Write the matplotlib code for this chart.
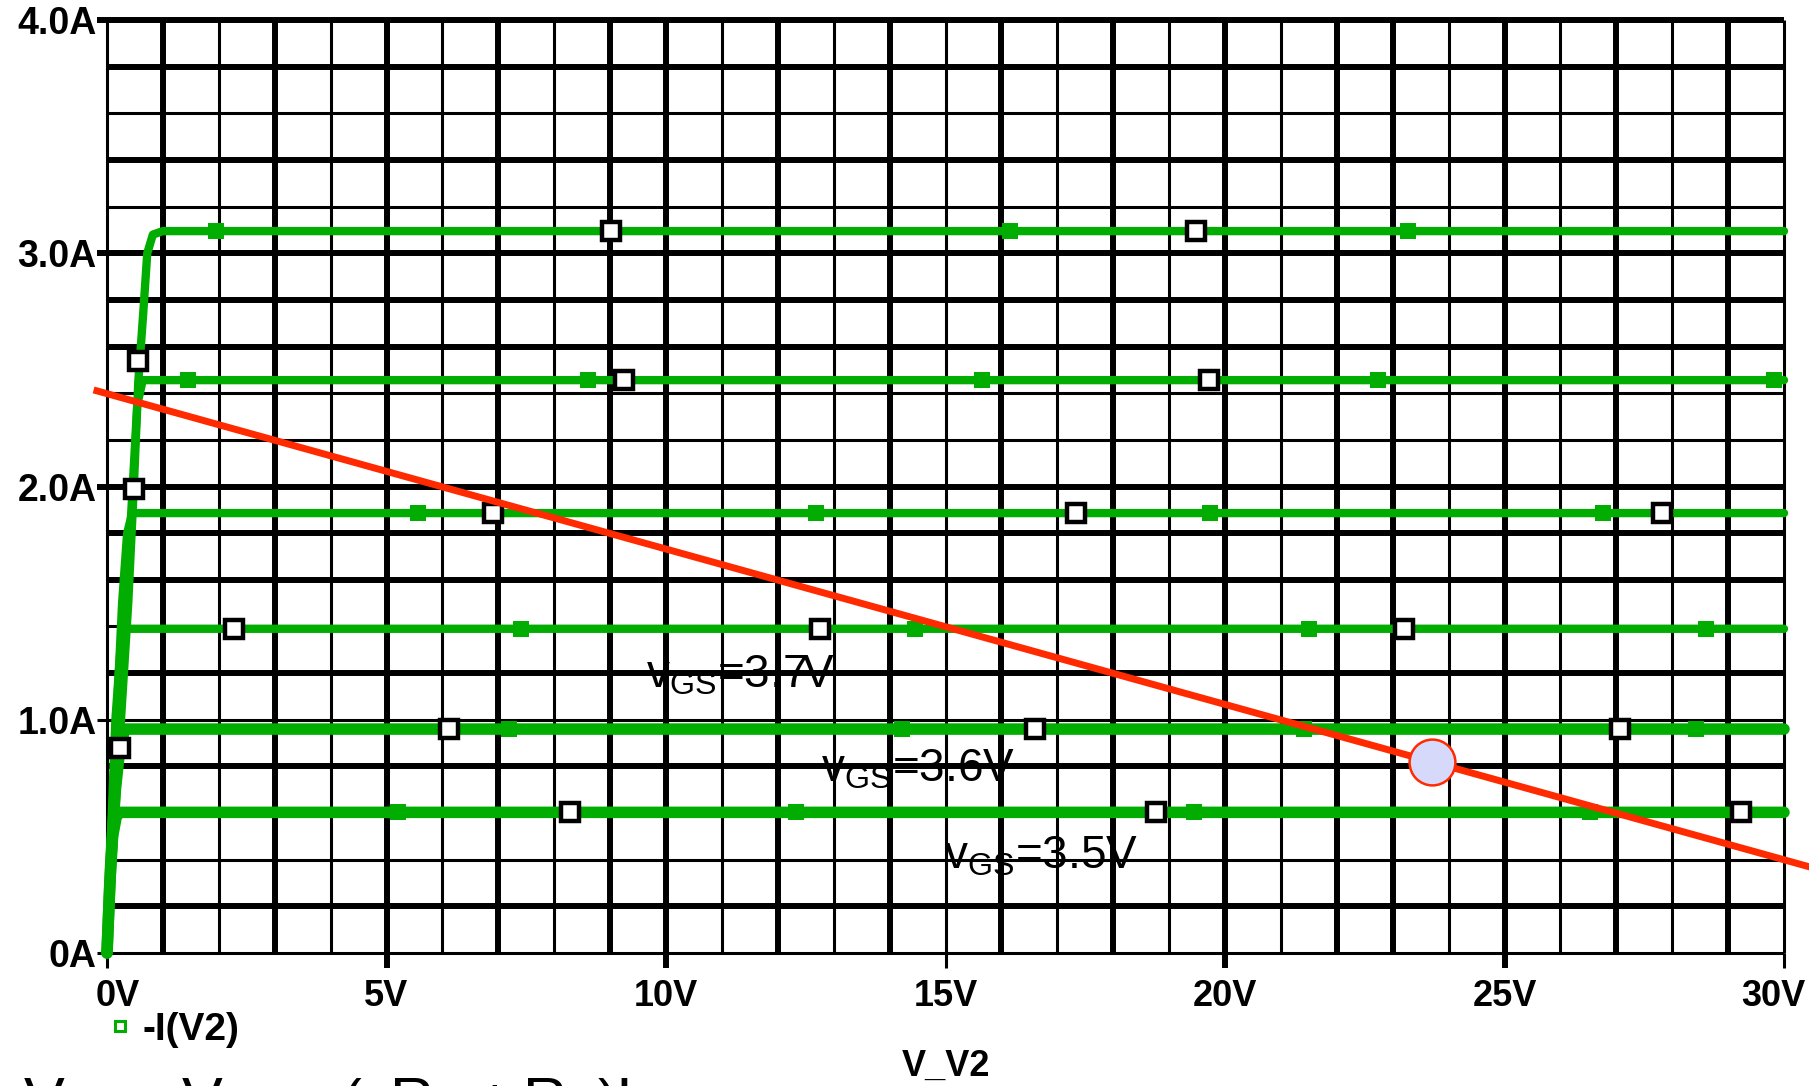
import matplotlib.pyplot as plt
from matplotlib.lines import Line2D
from matplotlib.transforms import ScaledTranslation

plt.rcParams['font.family'] = ['Liberation Sans', 'DejaVu Sans']
plt.rcParams['mathtext.fontset'] = 'custom'
plt.rcParams['mathtext.rm'] = 'Liberation Sans'
plt.rcParams['mathtext.it'] = 'Liberation Sans:italic'

GREEN = '#00AD00'
RED = '#FF2A00'

# -I(V2) traces, one per gate voltage: drain voltage (V) and current (A)
v_40 = [0, 0.12, 0.25, 0.38, 0.48, 0.56, 0.65, 0.72, 0.82, 1.0, 30]
i_40 = [0, 0.5, 1.0, 1.5, 2.0, 2.45, 2.75, 3.0, 3.08, 3.095, 3.095]
v_39 = [0, 0.1, 0.22, 0.34, 0.46, 0.54, 0.64, 30]
i_39 = [0, 0.5, 1.0, 1.5, 2.0, 2.35, 2.456, 2.456]
v_38 = [0, 0.08, 0.17, 0.27, 0.36, 0.45, 30]
i_38 = [0, 0.5, 1.0, 1.5, 1.8, 1.886, 1.886]
v_37 = [0, 0.07, 0.15, 0.24, 0.35, 30]
i_37 = [0, 0.5, 1.0, 1.3, 1.39, 1.39]
v_36 = [0, 0.07, 0.15, 0.23, 0.32, 30]
i_36 = [0, 0.4, 0.7, 0.88, 0.96, 0.96]
v_35 = [0, 0.05, 0.1, 0.17, 0.25, 30]
i_35 = [0, 0.3, 0.5, 0.59, 0.603, 0.603]

# PSpice trace markers (open squares and filled dots)
sq_v_40 = [0.56, 9.02, 19.49]
sq_i_40 = [2.54, 3.095, 3.095]
dot_v_40 = [1.95, 16.15, 23.27]
sq_v_39 = [0.48, 9.25, 19.72]
sq_i_39 = [1.99, 2.456, 2.456]
dot_v_39 = [1.45, 8.61, 15.65, 22.73, 29.83]
sq_v_38 = [6.90, 17.34, 27.81]
dot_v_38 = [5.56, 12.68, 19.74, 26.77]
sq_v_37 = [2.28, 12.76, 23.20]
dot_v_37 = [7.41, 14.45, 21.51, 28.61]
sq_v_36 = [0.23, 6.11, 16.60, 27.06]
sq_i_36 = [0.88, 0.96, 0.96, 0.96]
dot_v_36 = [7.19, 14.23, 21.41, 28.43]
sq_v_35 = [8.28, 18.77, 29.23]
dot_v_35 = [5.21, 12.33, 19.45, 26.53]

# load line and operating point
load_v = [-0.18, 31.0]
load_i = [2.41, 0.333]
q_v = [23.7]
q_i = [0.82]

x_ticks = [0, 5, 10, 15, 20, 25, 30]
x_tick_labels = ['0V', '5V', '10V', '15V', '20V', '25V', '30V']
y_ticks = [0, 1, 2, 3, 4]
y_tick_labels = ['0A', '1.0A', '2.0A', '3.0A', '4.0A']

THICK, THIN = 4.3, 2.2

fig = plt.figure(figsize=(18.09, 10.86), dpi=100)
ax = fig.add_axes([0.05915, 0.12247, 0.92703, 0.85911])
ax.set_xlim(0, 30)
ax.set_ylim(0, 4)
for s in ax.spines.values():
    s.set_visible(False)

# screen grid, thick/thin the way the probe window renders it
grid_v = list(range(31))
thick_v = {1, 3, 5, 7, 9, 10, 12, 14, 16, 18, 20, 22, 23, 25, 27, 29}
ax.vlines(grid_v, 0, 4, colors='black', zorder=1, clip_on=False,
          linewidths=[THICK if v in thick_v else THIN for v in grid_v])
grid_k = list(range(21))
thick_k = {1, 4, 6, 8, 9, 10, 13, 14, 15, 17, 19, 20}
ax.hlines([k * 0.2 for k in grid_k], 0, 30, colors='black', zorder=1, clip_on=False,
          linewidths=[THICK if k in thick_k else THIN for k in grid_k])

# traces
for v, i, lw in [(v_40, i_40, 6.0), (v_39, i_39, 6.0), (v_38, i_38, 6.0),
                 (v_37, i_37, 6.0), (v_36, i_36, 8.3), (v_35, i_35, 8.3)]:
    ax.plot(v, i, color=GREEN, lw=lw, solid_capstyle='round', zorder=2, clip_on=False)

dots = [(dot_v_40, 3.095), (dot_v_39, 2.456), (dot_v_38, 1.886),
        (dot_v_37, 1.39), (dot_v_36, 0.96), (dot_v_35, 0.603)]
for dv, lvl in dots:
    ax.plot(dv, [lvl] * len(dv), 's', color=GREEN, ms=12, mew=0, zorder=2.5)

squares = [(sq_v_40, sq_i_40), (sq_v_39, sq_i_39), (sq_v_38, [1.886] * 3),
           (sq_v_37, [1.39] * 3), (sq_v_36, sq_i_36), (sq_v_35, [0.603] * 3)]
for sv, si in squares:
    ax.plot(sv, si, 's', mfc='white', mec='black', ms=12.6, mew=3.2,
            ls='none', zorder=3, clip_on=False)

ax.plot(load_v, load_i, color=RED, lw=5, zorder=4, clip_on=False)
ax.plot(q_v, q_i, 'o', mfc='#D6D9F9', mec=RED, ms=33, mew=1.8, zorder=5)

# gate voltage labels
lab_kw = dict(fontsize=33, ha='left', va='baseline', zorder=6)
ax.text(9.64, 1.14, r'$\mathregular{v_{GS}}$=3.7V', **lab_kw)
ax.text(12.77, 0.734, r'$\mathregular{v_{GS}}$=3.6V', **lab_kw)
ax.text(14.97, 0.364, r'$\mathregular{v_{GS}}$=3.5V', **lab_kw)

# axes ticks
ax.set_xticks(x_ticks)
ax.set_xticklabels(x_tick_labels, fontsize=26, fontweight='bold')
ax.set_yticks(y_ticks)
ax.set_yticklabels(y_tick_labels, fontsize=27, fontweight='bold')
ax.tick_params(axis='x', length=10.8, pad=8, direction='out')
ax.tick_params(axis='y', length=7, pad=0.5, direction='out')
for t, v in zip(ax.xaxis.get_major_ticks(), x_ticks):
    t.tick1line.set_markeredgewidth(THICK if v in thick_v else THIN)
for t, v in zip(ax.yaxis.get_major_ticks(), y_ticks):
    t.tick1line.set_markeredgewidth(THICK if v * 5 in thick_k else THIN)

# first and last x labels sit inside the frame edges
xlabs = ax.get_xticklabels()
xlabs[0].set_transform(xlabs[0].get_transform() + ScaledTranslation(0.11, 0, fig.dpi_scale_trans))
xlabs[-1].set_transform(xlabs[-1].get_transform() + ScaledTranslation(-0.11, 0, fig.dpi_scale_trans))

ax.set_xlabel('V_V2', fontsize=26, fontweight='bold', labelpad=25)

handle = Line2D([], [], ls='none', marker='s', mfc='white', mec=GREEN, ms=6.5, mew=2.2)
fig.legend([handle], ['-I(V2)'], loc='center left', frameon=False,
           bbox_to_anchor=(110 / 1809, 1 - 1030 / 1086),
           prop=dict(size=28, weight='bold'), handlelength=0.5,
           handletextpad=0.34, borderpad=0, borderaxespad=0)

# load line equation along the bottom edge
fig.text(0.0127, -0.032,
         r'$\mathregular{V_{DS} = V_{DD} - \left(\;\;R_D + R_S\right)I}$',
         fontsize=44, ha='left', va='baseline')

fig.savefig('out.png', dpi=100)
